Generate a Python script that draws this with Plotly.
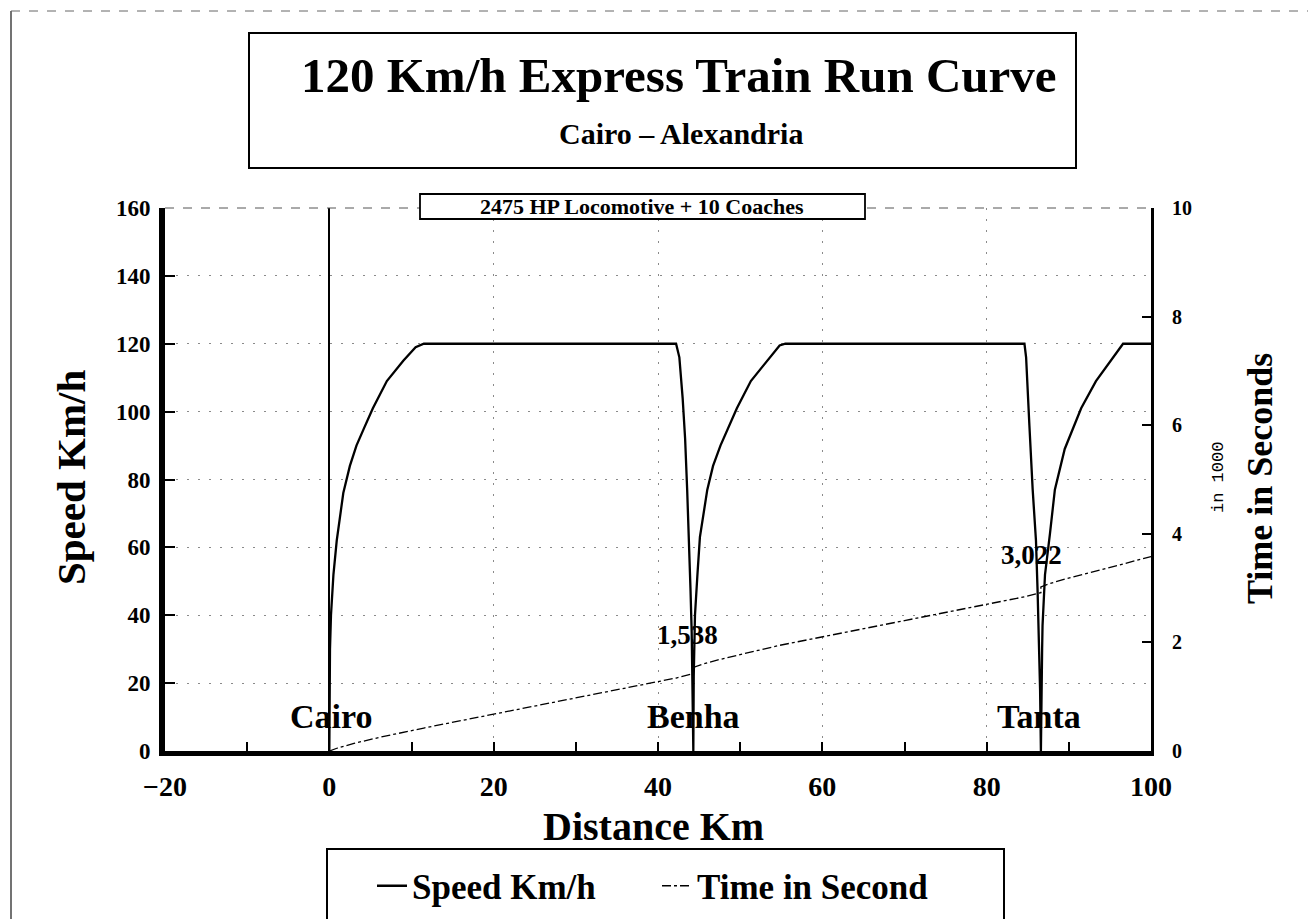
import plotly.graph_objects as go

# ---------------- data ----------------
speed_km = [0, 0.02, 0.08, 0.2, 0.5, 0.9, 1.7, 2.5, 3.3, 4.2, 5.3, 7.0, 9.0, 10.5, 11.5,
            42.2, 42.6, 43.0, 43.3, 43.55, 43.8, 43.95, 44.1, 44.2, 44.3,
            44.35, 44.45, 44.5, 44.8, 45.1, 46.0, 46.7, 47.6, 48.5, 49.6, 51.3, 53.3, 54.8, 55.5,
            84.6, 84.8, 85.0, 85.2, 85.6, 86.0, 86.2, 86.4, 86.5, 86.6,
            86.65, 86.75, 86.8, 87.1, 87.7, 88.3, 89.5, 90.5, 91.5, 93.3, 95.4, 96.6, 100]
speed_kmh = [0, 20, 30, 40, 52, 62, 76, 84, 90, 95, 101, 109, 115, 119, 120,
             120, 116, 104, 92, 77, 62, 48, 35, 22, 0,
             22, 32, 40, 52, 63, 77, 84, 90, 95, 101, 109, 115, 119.5, 120,
             120, 116, 105, 96, 77, 62, 47, 32, 18, 0,
             20, 30, 37, 52, 64, 77, 89, 95, 101, 109, 116, 120, 120]

time_km = [0, 1, 3, 6, 11.5, 20, 30, 42.2, 44.3, 44.3, 45.3, 47.3, 50.3, 54.8, 70, 84.6,
           86.6, 86.6, 87.6, 89.6, 92.6, 97, 100]
time_ks = [0, 0.055, 0.140, 0.248, 0.423, 0.678, 0.978, 1.344, 1.425, 1.538, 1.593, 1.678,
           1.786, 1.946, 2.402, 2.840, 2.915, 3.022, 3.080, 3.170, 3.285, 3.46, 3.58]

stations = ["Cairo", "Benha", "Tanta"]
station_km = [0.2, 44.3, 86.4]
dwell_labels = ["1,538", "3,022"]
dwell_km = [43.6, 85.5]
dwell_ks = [1.538, 3.022]

x_ticks = [-20, 0, 20, 40, 60, 80, 100]
y_ticks = [0, 20, 40, 60, 80, 100, 120, 140, 160]
y2_ticks = [0, 2, 4, 6, 8, 10]

SERIF = "Liberation Serif"

fig = go.Figure()
fig.add_trace(go.Scatter(x=speed_km, y=speed_kmh, mode="lines", name="Speed Km/h",
                         line=dict(color="black", width=2.3)))
fig.add_trace(go.Scatter(x=time_km, y=time_ks, mode="lines", name="Time in Second",
                         yaxis="y2", line=dict(color="black", width=1.3, dash="dashdot")))

W, H = 1316, 919
L, R, T, B = 157, 1143, 200, 743


def px(xp):
    return (xp - L) / (R - L)


def py(yp):
    return (B - yp) / (B - T)


GRID = dict(showgrid=True, gridcolor="#8a8a8a", griddash="2px,9px", gridwidth=1)

fig.update_layout(
    width=W, height=H,
    margin=dict(l=L, r=W - R, t=T, b=H - B),
    paper_bgcolor="white", plot_bgcolor="white",
    showlegend=True,
    legend=dict(orientation="h", x=px(364), xanchor="left", y=py(878), yanchor="middle",
                bgcolor="rgba(0,0,0,0)", borderwidth=0, entrywidth=240,
                font=dict(family=SERIF, size=35, color="black", weight="bold")),
    xaxis=dict(range=[-20, 100], tickvals=x_ticks, ticks="inside", ticklen=9,
               tickwidth=2, tickcolor="black",
               minor=dict(dtick=10, tick0=0, ticks="inside", ticklen=9, tickcolor="black",
                          tickwidth=1.5, showgrid=False),
               showline=True, linewidth=5, linecolor="black",
               zeroline=True, zerolinecolor="black", zerolinewidth=2,
               tickfont=dict(family=SERIF, size=28, color="black", weight="bold"),
               ticklabelstandoff=6, **GRID),
    yaxis=dict(range=[0, 160], tickvals=y_ticks, ticks="inside", ticklen=10,
               tickcolor="black", tickwidth=1.5,
               showline=True, linewidth=6, linecolor="black",
               zeroline=False,
               tickfont=dict(family=SERIF, size=23, color="black", weight="bold"),
               ticklabelstandoff=4, **GRID),
    yaxis2=dict(range=[0, 10], tickvals=y2_ticks, overlaying="y", side="right",
                ticks="inside", ticklen=9, tickcolor="black", tickwidth=1.5,
                showline=True, linewidth=3, linecolor="black",
                showgrid=False, zeroline=False,
                tickfont=dict(family=SERIF, size=20, color="black", weight="bold"),
                ticklabelstandoff=14),
)

shapes = []
# outer frame lines
shapes.append(dict(type="line", xref="paper", yref="paper", x0=px(3), x1=px(3), y0=py(3), y1=py(919),
                   line=dict(color="#444", width=1.5)))
shapes.append(dict(type="line", xref="paper", yref="paper", x0=px(3), x1=px(1316), y0=py(3), y1=py(3),
                   line=dict(color="#666", width=1, dash="dash")))
# top border of plot (dashed)
shapes.append(dict(type="line", xref="paper", yref="paper", x0=0, x1=1, y0=1, y1=1,
                   line=dict(color="#555", width=1, dash="dash")))
# title box
shapes.append(dict(type="rect", xref="paper", yref="paper", x0=px(241), x1=px(1068),
                   y0=py(25), y1=py(160), line=dict(color="black", width=2), fillcolor="white"))
# locomotive box
shapes.append(dict(type="rect", xref="paper", yref="paper", x0=px(412), x1=px(857),
                   y0=py(186), y1=py(211), line=dict(color="black", width=1.8), fillcolor="white",
                   layer="above"))
# legend box
shapes.append(dict(type="rect", xref="paper", yref="paper", x0=px(319), x1=px(996),
                   y0=py(841), y1=py(915), line=dict(color="black", width=2)))
fig.update_layout(shapes=shapes)

ann = []
ann.append(dict(text="120 Km/h Express Train Run Curve", xref="paper", yref="paper",
                x=px(671), y=py(67), showarrow=False, xanchor="center", yanchor="middle",
                font=dict(family=SERIF, size=49, color="black", weight="bold")))
ann.append(dict(text="Cairo – Alexandria", xref="paper", yref="paper",
                x=px(673), y=py(126), showarrow=False, xanchor="center", yanchor="middle",
                font=dict(family=SERIF, size=30, color="black", weight="bold")))
ann.append(dict(text="2475 HP Locomotive + 10 Coaches", xref="paper", yref="paper",
                x=px(634), y=py(199), showarrow=False, xanchor="center", yanchor="middle",
                font=dict(family=SERIF, size=22, color="black", weight="bold")))
ann.append(dict(text="Distance Km", xref="paper", yref="paper",
                x=px(645), y=py(818), showarrow=False, xanchor="center", yanchor="middle",
                font=dict(family=SERIF, size=40, color="black", weight="bold")))
ann.append(dict(text="Speed Km/h", xref="paper", yref="paper", textangle=-90,
                x=px(63), y=py(470), showarrow=False, xanchor="center", yanchor="middle",
                font=dict(family=SERIF, size=41, color="black", weight="bold")))
ann.append(dict(text="Time in Seconds", xref="paper", yref="paper", textangle=-90,
                x=px(1252), y=py(471), showarrow=False, xanchor="center", yanchor="middle",
                font=dict(family=SERIF, size=36, color="black", weight="bold")))
ann.append(dict(text="in 1000", xref="paper", yref="paper", textangle=-90,
                x=px(1210), y=py(470), showarrow=False, xanchor="center", yanchor="middle",
                font=dict(family="Liberation Mono", size=17, color="black")))
for name, km in zip(stations, station_km):
    ann.append(dict(text=name, xref="x", yref="y", x=km, y=10.3, showarrow=False,
                    xanchor="center", yanchor="middle",
                    font=dict(family=SERIF, size=34, color="black", weight="bold")))
for lab, km, ks in zip(dwell_labels, dwell_km, dwell_ks):
    ann.append(dict(text=lab, xref="x", yref="y2", x=km, y=ks, yshift=32, showarrow=False,
                    xanchor="center", yanchor="middle",
                    font=dict(family=SERIF, size=27, color="black", weight="bold")))
fig.update_layout(annotations=ann)

fig.write_html("out.html")
